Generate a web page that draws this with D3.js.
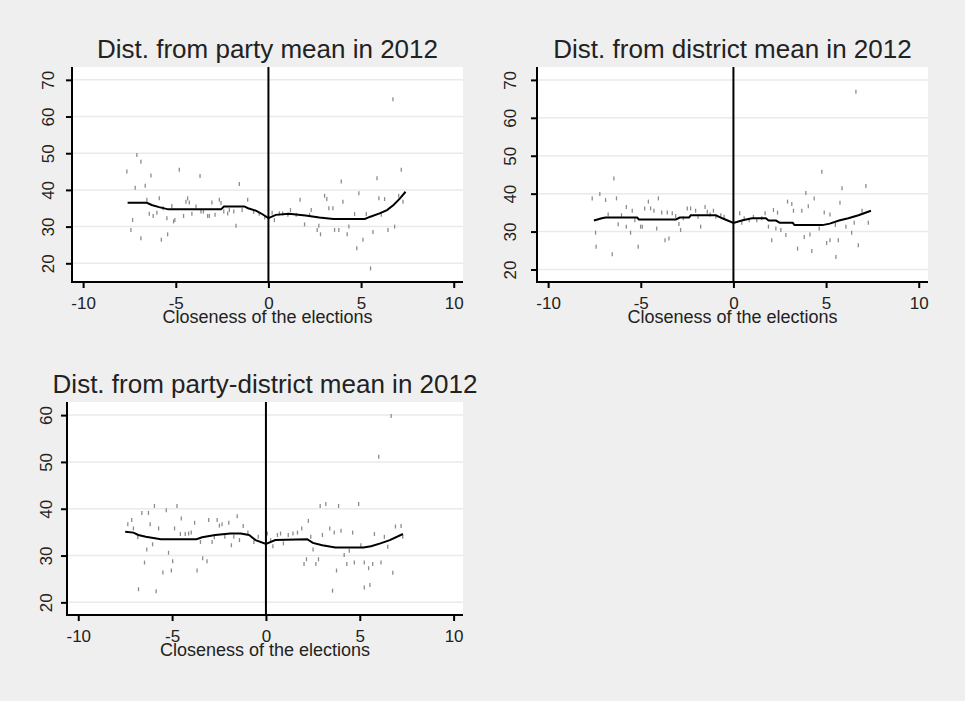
<!DOCTYPE html>
<html>
<head>
<meta charset="utf-8">
<script src="https://cdn.jsdelivr.net/npm/d3@7"></script>
<style>
  body { margin: 0; background: #efefef; }
  text { font-family: "Liberation Sans", Arial, sans-serif; fill: #222; }
</style>
</head>
<body>
<div id="chart"></div>
<script>
// tick labels
var xTicks = [-10, -5, 0, 5, 10];
var yTicksTop = [20, 30, 40, 50, 60, 70];
var yTicksBottom = [20, 30, 40, 50, 60];
var xLabel = "Closeness of the elections";

// panel 1: Dist. from party mean in 2012
var partyX = [-7.64, -7.42, -7.33, -7.19, -7.1, -6.88, -6.88, -6.65, -6.56, -6.43, -6.34, -6.22, -6.02, -5.89, -5.78, -5.68,
  -5.48, -5.44, -5.21, -5.12, -5.05, -4.81, -4.58, -4.45, -4.36, -4.27, -4.13, -3.91, -3.69, -3.64, -3.51, -3.28, -3.19,
  -3.05, -2.88, -2.65, -2.56, -2.41, -2.2, -2.11, -1.87, -1.75, -1.57, -1.42, -1.12, -0.8, -0.5, -0.2,
  0.2, 0.32, 0.59, 0.77, 1.05, 1.19, 1.5, 1.71, 1.95, 2.22, 2.31, 2.63, 2.72, 2.81, 3.03, 3.15, 3.26, 3.48, 3.57, 3.8,
  3.93, 4.02, 4.25, 4.34, 4.65, 4.77, 4.88, 5.1, 5.28, 5.51, 5.64, 5.86, 5.96, 6.09, 6.27, 6.45, 6.72, 6.81, 7.03, 7.17, 7.26];
var partyY = [45, 29.1, 31.8, 40.6, 49.5, 47.7, 26.8, 41.1, 37.3, 33.5, 43.9, 32.9, 33.8, 37.7, 26.4, 35,
  32.3, 27.9, 35.6, 31.4, 31.8, 45.5, 32.9, 36.8, 37.7, 36.6, 33.5, 35.5, 43.8, 34.1, 34.1, 32.9, 32.9,
  36.6, 33.2, 37.3, 36.4, 34.1, 33.6, 34.5, 34.1, 30.2, 41.6, 34.5, 37.3, 34, 33.5, 32.5,
  33.8, 31.8, 33.6, 33.6, 33.2, 34.5, 33.2, 37.3, 30.6, 33.2, 34.5, 29.1, 30.2, 27.9, 38.4, 37.5, 35, 35, 29.1, 29.1,
  42.3, 36.8, 27.9, 30, 33.4, 24.1, 39.1, 26.4, 33.4, 18.6, 28.5, 43.2, 37.7, 33.2, 37.5, 29.1, 64.7, 30, 38.4, 45.5, 36.8];
var partyFitX = [-7.6, -6.56, -6.3, -5.9, -5.4, -2.56, -2.4, -1.3, -1.1, -0.65, -0.3, 0, 0.4, 1.1, 2.0, 2.75, 3.5, 5.2, 5.5,
  6.0, 6.4, 6.75, 7.1, 7.4];
var partyFitY = [36.5, 36.5, 35.9, 35.3, 34.7, 34.7, 35.5, 35.5, 35.0, 34.3, 33.3, 32.3, 33.2, 33.5, 33.0, 32.5, 32.1, 32.1, 32.7,
  33.6, 34.5, 35.9, 37.7, 39.5];

// panel 2: Dist. from district mean in 2012
var districtX = [-7.62, -7.44, -7.41, -7.21, -6.9, -6.76, -6.54, -6.45, -6.31, -6.22, -6.04, -5.78, -5.78, -5.55, -5.46, -5.32,
  -5.14, -5.01, -4.92, -4.79, -4.59, -4.47, -4.29, -4.14, -4.05, -3.87, -3.69, -3.57, -3.48, -3.3, -3.12, -2.94, -2.85,
  -2.7, -2.49, -2.31, -2.04, -1.91, -1.77, -1.53, -1.41, -1.26, -1.08, -0.95, -0.68, -0.5,
  0.34, 0.45, 0.58, 0.85, 1.08, 1.26, 1.53, 1.71, 1.89, 2.07, 2.16, 2.38, 2.29, 2.56, 2.83, 2.92, 3.15, 3.24, 3.46, 3.69,
  3.82, 3.91, 4.04, 4.13, 4.23, 4.36, 4.63, 4.77, 4.9, 5.03, 5.21, 5.21, 5.5, 5.53, 5.66, 5.75, 5.86, 6.07, 6.38, 6.52,
  6.61, 6.74, 6.94, 7.15, 7.28];
var districtY = [38.75, 29.7, 26, 39.9, 38.3, 34.5, 24, 44, 38.75, 31.9, 34.3, 36.5, 31.3, 29.7, 35.5, 33,
  26, 31.3, 31.3, 36.1, 37.9, 36.1, 35.5, 30.8, 38.75, 35, 27.7, 35, 28.2, 34.8, 34.1, 32, 30.4,
  33.5, 36.1, 36.1, 35.5, 33.9, 31.3, 36.5, 35.2, 34.5, 35.5, 33.9, 34.3, 33.9,
  34.8, 32.3, 33.5, 33, 33.9, 33, 33.5, 34.8, 31.3, 27.7, 35.7, 35, 30.8, 30.4, 29.1, 37.9, 37.3, 35.5, 25.5, 35.5,
  28.6, 40.2, 36.7, 29.2, 24.9, 38.75, 30.8, 45.8, 35, 27, 34.5, 27.7, 31.7, 23.3, 27.7, 37.6, 41.4, 31.3, 29.7, 32.3,
  66.9, 26.4, 35.5, 42, 32.3];
var districtFitX = [-7.53, -7.1, -6.9, -5.2, -5.1, -3.1, -2.9, -2.4, -2.3, -0.95, -0.6, 0, 0.5, 1.0, 1.75, 1.9, 2.3, 2.5, 3.2,
  3.3, 4.8, 5.2, 5.7, 6.2, 6.75, 7.42];
var districtFitY = [32.9, 33.5, 33.7, 33.7, 33.2, 33.2, 33.7, 33.7, 34.3, 34.3, 33.5, 32.3, 33.0, 33.5, 33.5, 32.9, 32.9, 32.3, 32.3,
  31.7, 31.7, 32.1, 32.9, 33.5, 34.3, 35.5];

// panel 3: Dist. from party-district mean in 2012
var pdX = [-7.36, -7.15, -7.06, -6.83, -6.79, -6.61, -6.47, -6.35, -6.26, -6.17, -6.04, -5.94, -5.85, -5.72, -5.49, -5.31,
  -5.19, -5.04, -4.97, -4.87, -4.74, -4.56, -4.51, -4.3, -4.12, -3.98, -3.8, -3.67, -3.49, -3.37, -3.14, -3.05, -2.87,
  -2.75, -2.6, -2.48, -2.34, -2.19, -1.98, -1.84, -1.71, -1.53, -1.41, -1.21, -0.96, -0.64, -0.41,
  0.07, 0.25, 0.37, 0.61, 0.78, 0.93, 1.19, 1.44, 1.68, 1.91, 2.03, 2.16, 2.26, 2.39, 2.51, 2.66, 2.8, 2.89, 3.01, 3.19,
  3.4, 3.55, 3.64, 3.76, 3.87, 4, 4.17, 4.31, 4.44, 4.62, 4.71, 4.94, 5.06, 5.24, 5.24, 5.47, 5.54, 5.69, 5.78, 6.01,
  6.13, 6.31, 6.49, 6.67, 6.76, 6.9, 7.2, 7.29];
var pdY = [36.7, 37.6, 35.8, 33.9, 22.8, 39.1, 28.5, 31.3, 39.1, 36.7, 32.4, 40.6, 22.4, 35.8, 26.4, 39.7,
  30.6, 26.8, 28.8, 35.8, 40.6, 34.6, 37.9, 34.6, 34.7, 34.9, 37, 26.8, 32.9, 29.4, 28.8, 37.6, 32.9,
  33.9, 37.6, 36.4, 36.7, 34, 37, 32.2, 34, 38.4, 33.3, 36.3, 34.9, 32.9, 34,
  34.7, 33.3, 32, 34.4, 34.7, 32.6, 34.4, 34.7, 34.9, 35.8, 28.2, 29.2, 37.4, 34, 31.3, 28.2, 29.2, 40.6, 34.4, 41,
  35.8, 22.5, 34.9, 26.8, 40.6, 35.3, 30.1, 28.2, 31, 34.9, 28.5, 41, 32.2, 28.5, 23.2, 27.3, 23.7, 28.2, 34.6, 51.1,
  28.5, 34, 31.9, 59.8, 26.3, 36.2, 36.3, 34];
var pdFitX = [-7.5, -7.06, -6.8, -6.4, -5.6, -3.7, -3.4, -2.7, -1.9, -1.35, -0.9, -0.55, 0, 0.5, 2.2, 2.5, 3.0, 3.7, 5.2,
  5.6, 6.1, 6.6, 7.3];
var pdFitY = [35.1, 34.9, 34.4, 34.0, 33.5, 33.5, 33.9, 34.4, 34.7, 34.7, 34.4, 33.3, 32.5, 33.3, 33.5, 32.7, 32.2, 31.7, 31.7,
  32.0, 32.6, 33.3, 34.6];

var panels = [
  { title: "Dist. from party mean in 2012", left: 72, right: 463, top: 67, bottom: 282, yDomain: [14.9, 73.5],
    yTicks: yTicksTop, labelGap: 18, xs: partyX, ys: partyY, fx: partyFitX, fy: partyFitY },
  { title: "Dist. from district mean in 2012", left: 537, right: 928, top: 67, bottom: 282, yDomain: [16.7, 73.4],
    yTicks: yTicksTop, labelGap: 21, xs: districtX, ys: districtY, fx: districtFitX, fy: districtFitY },
  { title: "Dist. from party-district mean in 2012", left: 67, right: 463, top: 402, bottom: 615, yDomain: [17.3, 62.8],
    yTicks: yTicksBottom, labelGap: 15, xs: pdX, ys: pdY, fx: pdFitX, fy: pdFitY }
];

var svg = d3.select("#chart")
  .append("svg")
  .attr("width", 965)
  .attr("height", 701);

svg.append("rect")
  .attr("width", 965)
  .attr("height", 701)
  .attr("fill", "#efefef");

panels.forEach(function (p) {
  var x = d3.scaleLinear().domain([-10.6, 10.5]).range([p.left, p.right]);
  var y = d3.scaleLinear().domain(p.yDomain).range([p.bottom, p.top]);
  var g = svg.append("g");

  // white plot region
  g.append("rect")
    .attr("x", p.left)
    .attr("y", p.top)
    .attr("width", p.right - p.left)
    .attr("height", p.bottom - p.top)
    .attr("fill", "#ffffff");

  // gridlines
  g.selectAll(".grid")
    .data(p.yTicks)
    .enter().append("line")
    .attr("x1", p.left)
    .attr("x2", p.right)
    .attr("y1", function (d) { return y(d); })
    .attr("y2", function (d) { return y(d); })
    .attr("stroke", "#eaeaea")
    .attr("stroke-width", 1.5);

  // scatter: small vertical tick markers
  g.selectAll(".pt")
    .data(p.xs.map(function (v, i) { return [v, p.ys[i]]; }))
    .enter().append("line")
    .attr("x1", function (d) { return x(d[0]); })
    .attr("x2", function (d) { return x(d[0]); })
    .attr("y1", function (d) { return y(d[1]) - 2; })
    .attr("y2", function (d) { return y(d[1]) + 2; })
    .attr("stroke", "#8c8c8c")
    .attr("stroke-width", 1.3);

  // vertical line at zero
  g.append("line")
    .attr("x1", x(0))
    .attr("x2", x(0))
    .attr("y1", p.top)
    .attr("y2", p.bottom)
    .attr("stroke", "#000")
    .attr("stroke-width", 2);

  // smoothed fit
  var line = d3.line()
    .x(function (d) { return x(d[0]); })
    .y(function (d) { return y(d[1]); });
  g.append("path")
    .datum(p.fx.map(function (v, i) { return [v, p.fy[i]]; }))
    .attr("d", line)
    .attr("fill", "none")
    .attr("stroke", "#000")
    .attr("stroke-width", 2);

  // axes
  var xAxis = d3.axisBottom(x).tickValues(xTicks).tickSize(6)
    .tickFormat(function (d) { return String(d); });
  var gx = g.append("g")
    .attr("transform", "translate(0," + p.bottom + ")")
    .call(xAxis);
  gx.select(".domain").remove();
  gx.append("line")
    .attr("x1", p.left - 1)
    .attr("x2", p.right)
    .attr("stroke", "#000")
    .attr("stroke-width", 2);
  gx.selectAll(".tick line").attr("stroke", "#000").attr("stroke-width", 2);
  gx.selectAll(".tick text")
    .attr("y", 27)
    .attr("dy", null)
    .style("font-size", "17px")
    .style("font-family", "'Liberation Sans', Arial, sans-serif")
    .attr("fill", "#333");

  var yAxis = d3.axisLeft(y).tickValues(p.yTicks).tickSize(6)
    .tickFormat(function (d) { return String(d); });
  var gy = g.append("g")
    .attr("transform", "translate(" + p.left + ",0)")
    .call(yAxis);
  gy.select(".domain").remove();
  gy.append("line")
    .attr("y1", p.top)
    .attr("y2", p.bottom + 1)
    .attr("stroke", "#000")
    .attr("stroke-width", 2);
  gy.selectAll(".tick line").attr("stroke", "#000").attr("stroke-width", 2);
  gy.selectAll(".tick text")
    .attr("x", null)
    .attr("dy", null)
    .attr("transform", "translate(" + (-p.labelGap) + ",0) rotate(-90)")
    .style("text-anchor", "middle")
    .style("font-size", "17px")
    .style("font-family", "'Liberation Sans', Arial, sans-serif")
    .attr("fill", "#333");

  // titles
  g.append("text")
    .attr("x", (p.left + p.right) / 2)
    .attr("y", p.top - 9)
    .attr("text-anchor", "middle")
    .style("font-size", "26px")
    .text(p.title);

  // axis title sits just under the tick labels, as in the source
  g.append("text")
    .attr("x", (p.left + p.right) / 2)
    .attr("y", p.bottom + 41)
    .attr("text-anchor", "middle")
    .style("font-size", "18px")
    .attr("fill", "#333")
    .text(xLabel);
});
</script>
</body>
</html>
